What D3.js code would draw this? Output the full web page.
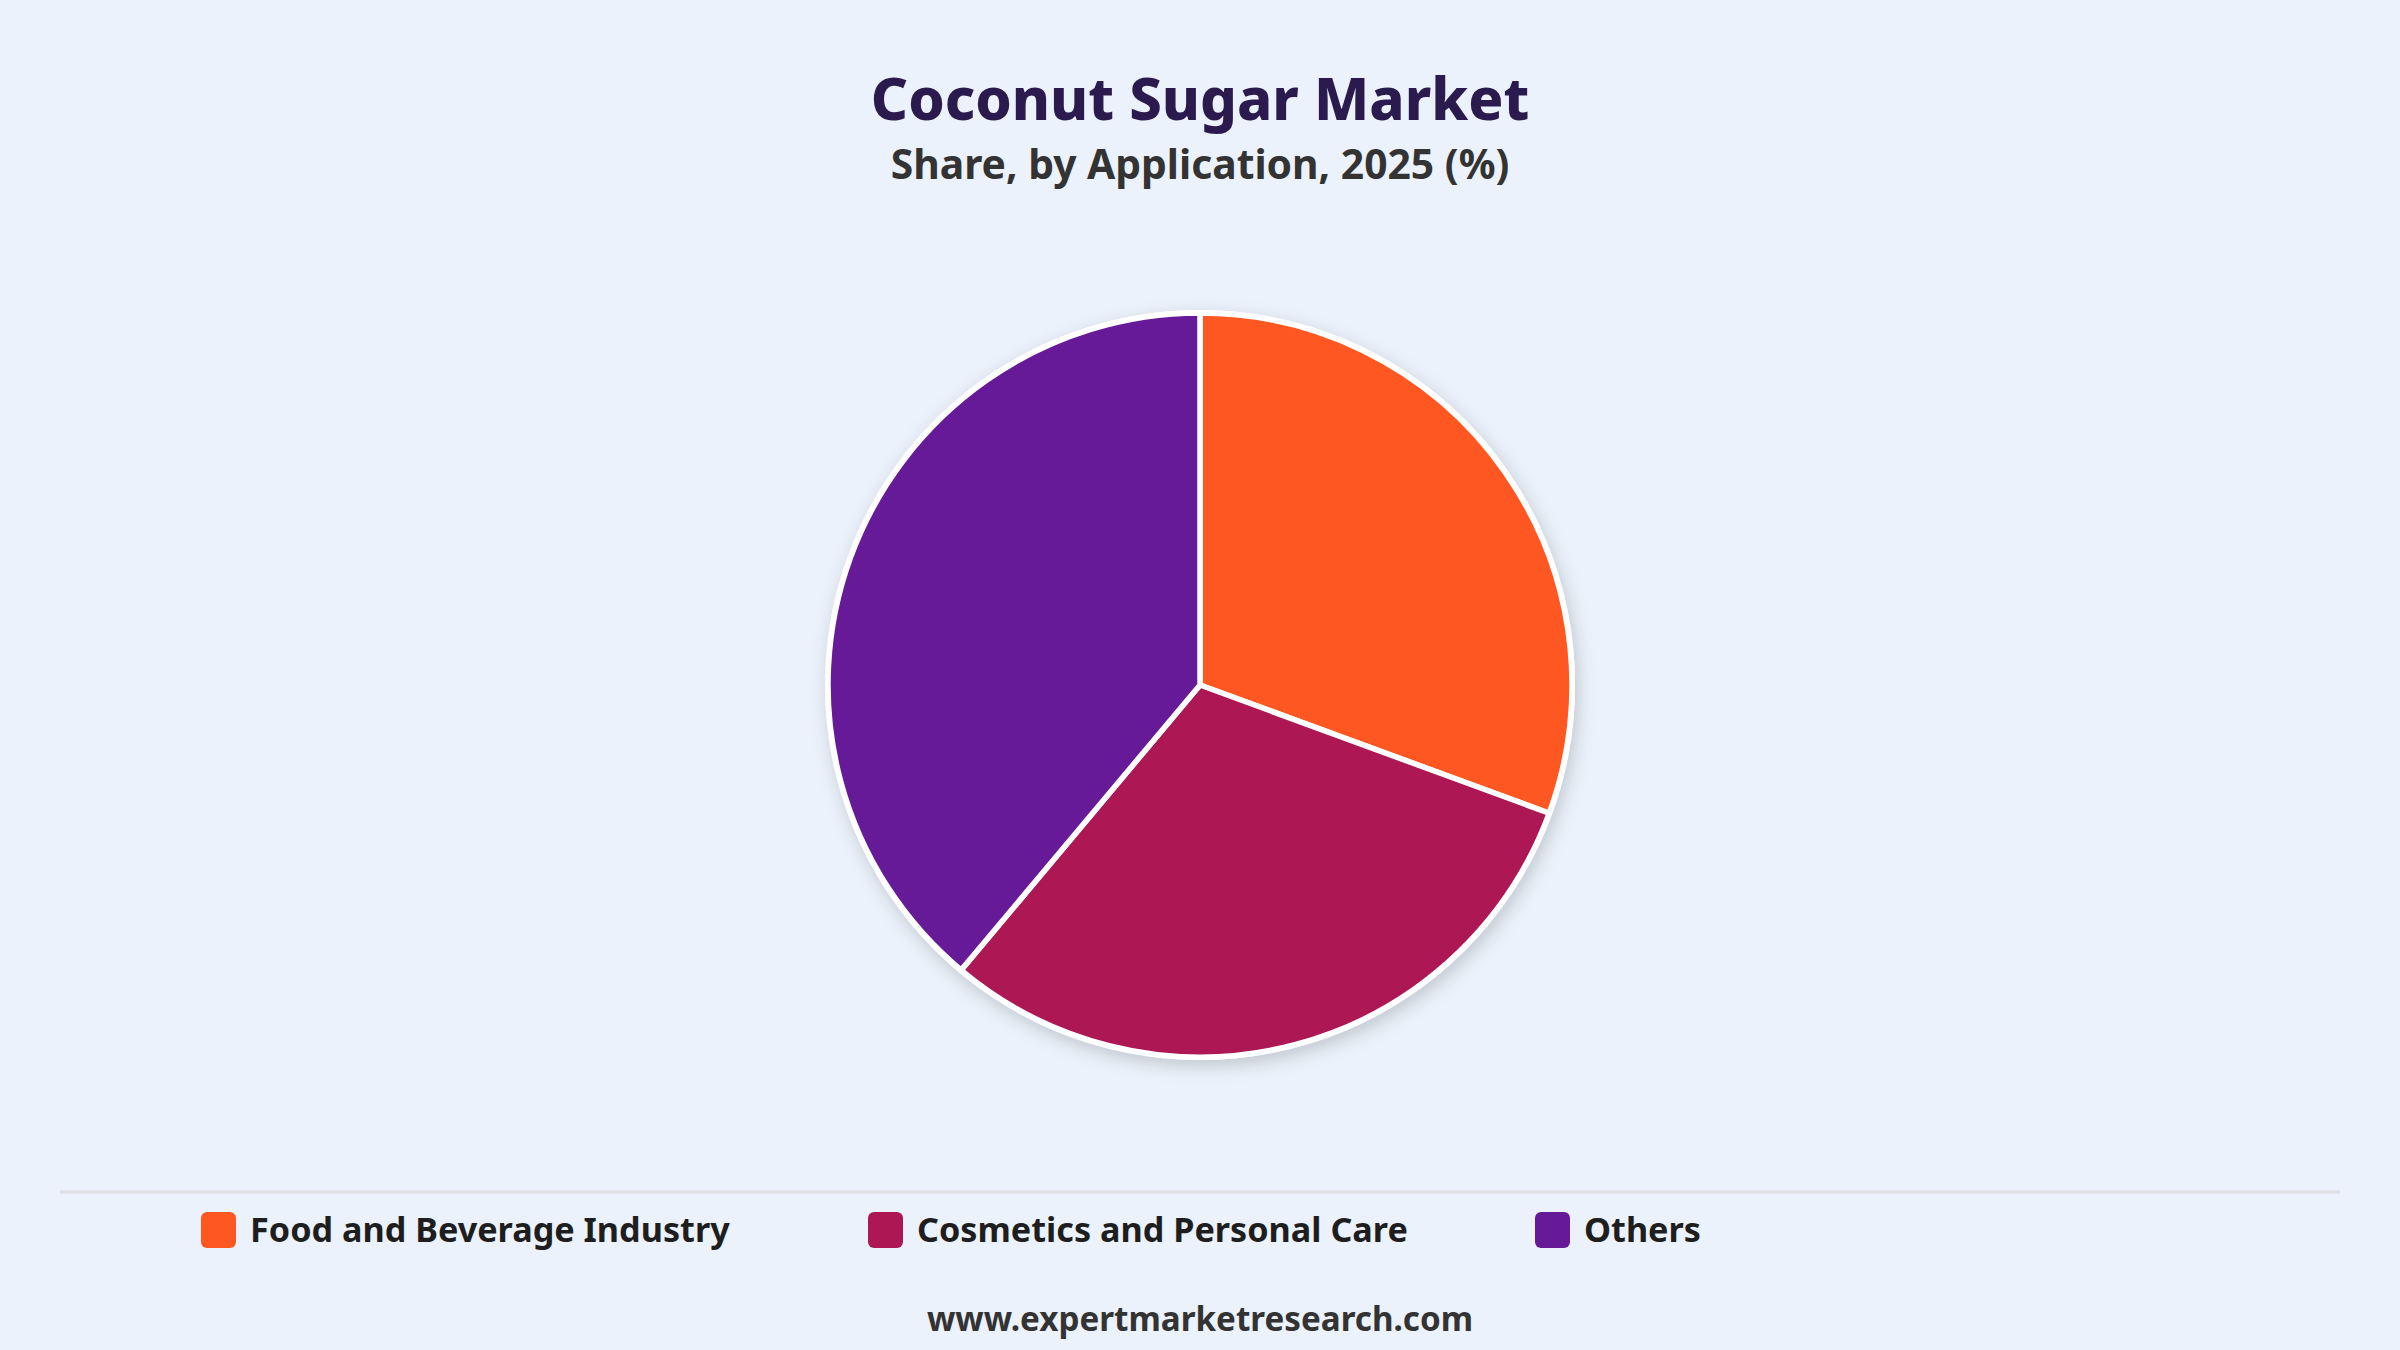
<!DOCTYPE html>
<html>
<head>
<meta charset="utf-8">
<script src="https://cdn.jsdelivr.net/npm/d3@7"></script>
<style>
  html, body { margin: 0; padding: 0; background: #EBF2FB; }
  svg { display: block; }
</style>
</head>
<body>
<svg id="chart" width="2400" height="1350"></svg>
<script>
const categories = ["Food and Beverage Industry", "Cosmetics and Personal Care", "Others"];
const shares = [30.6, 30.5, 38.9];
const colors = ["#FF5722", "#AD1753", "#661A97"];
const titleText = "Coconut Sugar Market";
const subtitleText = "Share, by Application, 2025 (%)";
const footerText = "www.expertmarketresearch.com";

const W = 2400, H = 1350;
const svg = d3.select("#chart");
const font = "'Noto Sans', 'Open Sans', sans-serif";

svg.append("rect").attr("width", W).attr("height", H).attr("fill", "#EBF2FB");

const defs = svg.append("defs");
const f = defs.append("filter").attr("id", "shadow").attr("x", "-20%").attr("y", "-20%").attr("width", "140%").attr("height", "140%");
f.append("feDropShadow").attr("dx", 3).attr("dy", 6).attr("stdDeviation", 9)
  .attr("flood-color", "#000").attr("flood-opacity", 0.18);

svg.append("text").attr("x", W / 2).attr("y", 120).attr("text-anchor", "middle")
  .attr("font-family", font).attr("font-weight", 800).attr("font-size", 58)
  .attr("fill", "#2B1A4D").text(titleText);
svg.append("text").attr("x", W / 2).attr("y", 179).attr("text-anchor", "middle")
  .attr("font-family", font).attr("font-weight", 700).attr("font-size", 40.8)
  .attr("fill", "#333333").text(subtitleText);

const data = categories.map((c, i) => ({ name: c, value: shares[i], color: colors[i] }));
const pie = d3.pie().value(d => d.value).sort(null);
const arc = d3.arc().innerRadius(0).outerRadius(372);
const g = svg.append("g").attr("transform", "translate(1200,685)");
g.append("circle").attr("r", 375).attr("fill", "#ffffff").attr("filter", "url(#shadow)");
g.selectAll("path").data(pie(data)).join("path")
  .attr("d", arc).attr("fill", d => d.data.color)
  .attr("stroke", "#ffffff").attr("stroke-width", 5.5).attr("stroke-linejoin", "round");

svg.append("line").attr("x1", 60).attr("x2", 2340).attr("y1", 1192).attr("y2", 1192)
  .attr("stroke", "#DCDFE4").attr("stroke-width", 3);

const legendX = d3.scalePoint().domain(categories).range([201, 1535]);
const lg = svg.append("g").selectAll("g").data(data).join("g")
  .attr("transform", d => `translate(${legendX(d.name)},1212)`);
lg.append("rect").attr("width", 35).attr("height", 36).attr("rx", 6).attr("fill", d => d.color);
lg.append("text").attr("x", 49).attr("y", 30)
  .attr("font-family", font).attr("font-weight", 700).attr("font-size", 34.2)
  .attr("fill", "#1E1E1E").text(d => d.name);

svg.append("text").attr("x", W / 2).attr("y", 1331).attr("text-anchor", "middle")
  .attr("font-family", font).attr("font-weight", 700).attr("font-size", 33.2)
  .attr("fill", "#333333").text(footerText);
</script>
</body>
</html>
